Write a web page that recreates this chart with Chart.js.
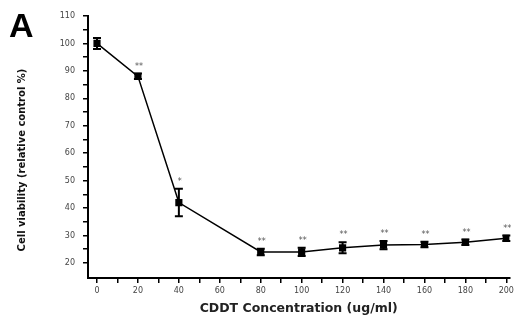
<!DOCTYPE html>
<html>
<head>
<meta charset="utf-8">
<script src="https://cdn.jsdelivr.net/npm/chart.js@4.4.0/dist/chart.umd.min.js"></script>
<style>
body{margin:0;background:#fff}
#wrap{width:517px;height:320px;position:relative}
</style>
</head>
<body>
<div id="wrap"><canvas id="c"></canvas></div>
<script>
// CDDT dose response
const doses = [0, 20, 40, 80, 100, 120, 140, 160, 180, 200]
const viability = [100, 88, 42, 24, 24, 25.5, 26.5, 26.7, 27.5, 29]
const sd = [2, 1, 5, 1.2, 1.5, 2, 1.5, 1, 1, 1]
const stars = ["", "**", "*", "**", "**", "**", "**", "**", "**", "**"]
const xTicks = [0, 20, 40, 60, 80, 100, 120, 140, 160, 180, 200]
const yTicks = [20, 30, 40, 50, 60, 70, 80, 90, 100, 110]

var xAll = []
xTicks.forEach(v => { xAll.push(v); if (v < 200) xAll.push(v + 10) })
var yAll = []
yTicks.forEach(v => { yAll.push(v); if (v < 110) yAll.push(v + 5) })

const extras = {
    id: "extras",
    afterDatasetsDraw(chart) {
        const ctx = chart.ctx
        const xs = chart.scales.x, ys = chart.scales.y
        ctx.save()
        ctx.strokeStyle = "#000"
        ctx.lineWidth = 2
        for (var i = 0; i < doses.length; i++) {
            var px = xs.getPixelForValue(doses[i])
            var top = ys.getPixelForValue(viability[i] + sd[i])
            var bot = ys.getPixelForValue(viability[i] - sd[i])
            ctx.beginPath()
            ctx.moveTo(px, top); ctx.lineTo(px, bot)
            ctx.moveTo(px - 4, top); ctx.lineTo(px + 4, top)
            ctx.moveTo(px - 4, bot); ctx.lineTo(px + 4, bot)
            ctx.stroke()
            if (stars[i]) {
                ctx.fillStyle = "#555"
                ctx.font = "8px DejaVu Sans"
                ctx.textAlign = "center"
                ctx.textBaseline = "bottom"
                ctx.fillText(stars[i], px + 1, top - 3)
            }
        }
        // panel letter and rotated y title
        ctx.fillStyle = "#000"
        ctx.font = "bold 34px Liberation Sans"
        ctx.textAlign = "left"
        ctx.textBaseline = "top"
        ctx.fillText("A", 9, 11)
        ctx.translate(22, 160)
        ctx.rotate(-Math.PI / 2)
        ctx.font = "bold 10px DejaVu Sans"
        ctx.textAlign = "center"
        ctx.textBaseline = "middle"
        ctx.fillStyle = "#111"
        ctx.fillText("Cell viability (relative control %)", 0, 0)
        ctx.restore()
    }
}

const chart = new Chart(document.getElementById("c"), {
    type: "line",
    data: {
        datasets: [{
            data: doses.map((d, i) => ({ x: d, y: viability[i] })),
            borderColor: "#000",
            borderWidth: 1.5,
            pointStyle: "rect",
            pointRadius: 4,
            pointBackgroundColor: "#000",
            pointBorderColor: "#000",
            tension: 0
        }]
    },
    options: {
        responsive: true,
        maintainAspectRatio: false,
        animation: false,
        events: [],
        layout: { padding: { left: 0, right: 4, top: 16, bottom: 0 } },
        plugins: { legend: { display: false }, tooltip: { enabled: false } },
        scales: {
            x: {
                type: "linear",
                min: -4.4,
                max: 201.5,
                afterBuildTicks: s => { s.ticks = xAll.map(v => ({ value: v })) },
                afterFit: s => { s.height = 42 },
                ticks: {
                    autoSkip: false,
                    maxRotation: 0,
                    color: "#444",
                    font: { size: 8, family: "DejaVu Sans" },
                    padding: 3,
                    callback: v => xTicks.includes(v) ? String(v) : ""
                },
                grid: { drawOnChartArea: false, drawTicks: true, tickLength: 5, color: "#000", lineWidth: 1.5 },
                border: { display: true, color: "#000", width: 2 },
                title: {
                    display: true,
                    text: "CDDT Concentration (ug/ml)",
                    color: "#222",
                    font: { size: 12.5, weight: "bold", family: "DejaVu Sans" },
                    padding: { top: 2 }
                }
            },
            y: {
                min: 14.5,
                max: 110,
                afterBuildTicks: s => { s.ticks = yAll.map(v => ({ value: v })) },
                afterFit: s => { s.width = 88 },
                ticks: {
                    autoSkip: false,
                    color: "#444",
                    font: { size: 8, family: "DejaVu Sans" },
                    padding: 8,
                    callback: v => yTicks.includes(v) ? String(v) : ""
                },
                grid: { drawOnChartArea: false, drawTicks: true, tickLength: 5, color: "#000", lineWidth: 1.5 },
                border: { display: true, color: "#000", width: 2 }
            }
        }
    },
    plugins: [extras]
})
</script>
</body>
</html>
